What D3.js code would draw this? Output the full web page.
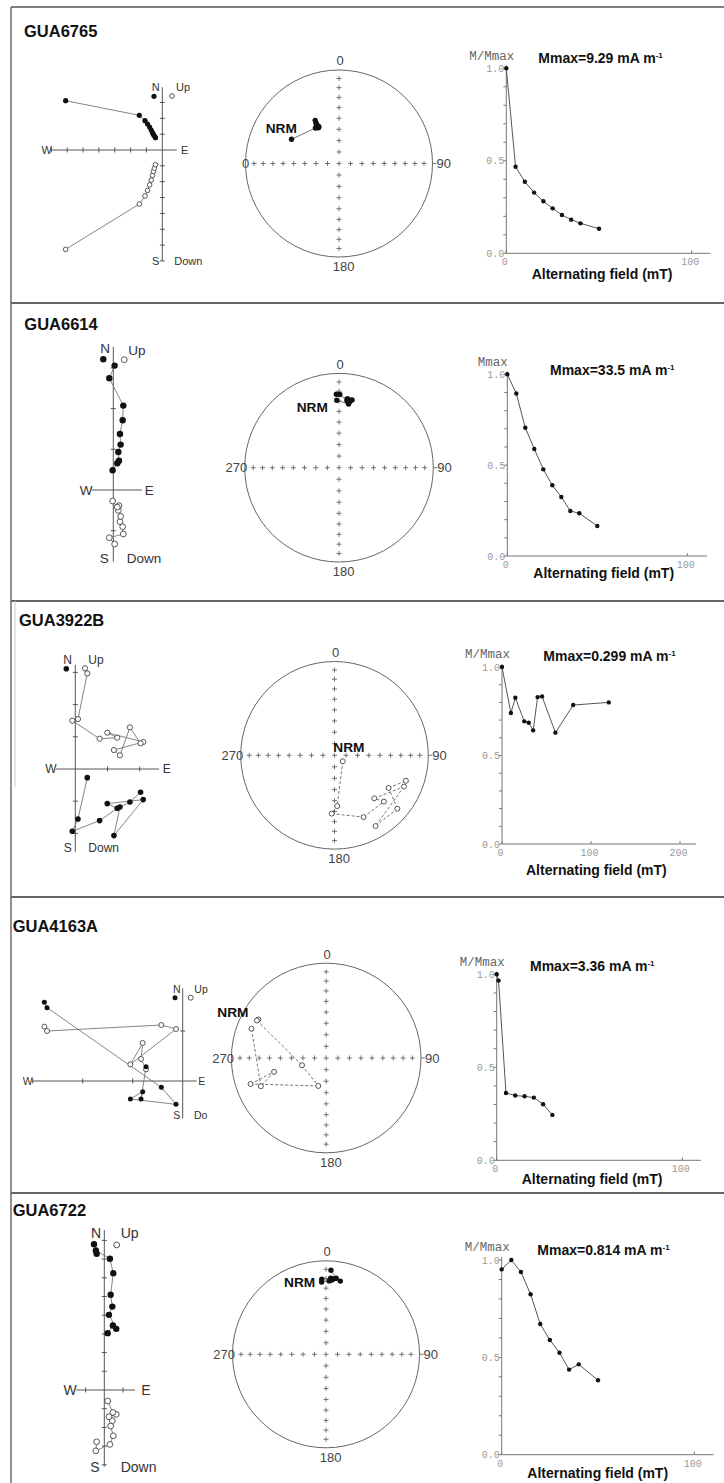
<!DOCTYPE html>
<html>
<head>
<meta charset="utf-8">
<script src="https://cdn.jsdelivr.net/npm/d3@7"></script>
<style>
  body { margin: 0; background: #fff; }
  svg { display: block; font-family: "Liberation Sans", Arial, sans-serif; }
</style>
</head>
<body>
<svg id="fig" width="724" height="1483"></svg>
<script>
// ---- data ----
const samples = ["GUA6765", "GUA6614", "GUA3922B", "GUA4163A", "GUA6722"];
const mmaxText = ["Mmax=9.29 mA m", "Mmax=33.5 mA m", "Mmax=0.299 mA m", "Mmax=3.36 mA m", "Mmax=0.814 mA m"];

// AF demagnetisation steps (mT)
const afSteps = [
  [0, 5, 10, 15, 20, 25, 30, 35, 40, 50],
  [0, 5, 10, 15, 20, 25, 30, 35, 40, 50],
  [0, 10, 15, 25, 30, 35, 40, 45, 60, 80, 120],
  [0, 1, 5, 10, 15, 20, 25, 30],
  [0, 5, 10, 15, 20, 25, 30, 35, 40, 50]
];
// M/Mmax at each step
const mNorm = [
  [1.0, 0.468, 0.387, 0.328, 0.281, 0.243, 0.207, 0.182, 0.162, 0.133],
  [1.0, 0.894, 0.706, 0.589, 0.477, 0.389, 0.325, 0.248, 0.235, 0.165],
  [1.0, 0.74, 0.826, 0.693, 0.685, 0.642, 0.83, 0.834, 0.629, 0.785, 0.80],
  [1.0, 0.966, 0.362, 0.348, 0.344, 0.337, 0.301, 0.244],
  [0.952, 1.0, 0.938, 0.824, 0.671, 0.589, 0.524, 0.437, 0.464, 0.382]
];
// vector components per step, in Zijderveld tick units (East, North, Up)
const compE = [
  [-6.10, -1.45, -1.09, -0.93, -0.80, -0.70, -0.62, -0.56, -0.50, -0.43],
  [0.033, -0.098, 0.246, 0.230, 0.164, 0.180, 0.123, 0.139, 0.098, -0.016],
  [0.372, 0.083, -0.093, 0.755, 1.303, 0.993, 2.110, 1.200, 1.386, 1.696, 2.027],
  [-2.767, -2.713, -0.427, -0.133, -1.047, -0.800, -0.833, -0.733],
  [-0.41, -0.45, 0.30, 0.48, 0.34, 0.43, 0.25, 0.64, 0.46, 0.18]
];
const compN = [
  [3.11, 2.19, 1.85, 1.64, 1.45, 1.26, 1.09, 0.98, 0.88, 0.78],
  [3.057, 2.746, 2.074, 1.713, 1.377, 1.115, 0.934, 0.721, 0.656, 0.484],
  [-0.269, -1.551, -1.934, -1.603, -1.220, -1.075, -0.951, -2.068, -1.179, -1.024, -0.724],
  [1.573, 1.467, -0.127, -0.467, -0.360, -0.213, -0.360, 0.287],
  [7.29, 7.46, 7.02, 6.25, 5.09, 4.46, 4.02, 3.27, 3.45, 3.04]
];
const compUp = [
  [-6.27, -3.41, -2.90, -2.55, -2.20, -1.90, -1.60, -1.35, -1.15, -0.93],
  [-1.328, -1.172, -1.082, -0.902, -0.779, -0.648, -0.500, -0.385, -0.420, -0.270],
  [2.968, 1.551, 1.500, 0.941, 0.972, 1.127, 0.838, 0.589, 0.424, 1.293, 0.796],
  [1.087, 1.000, 1.120, 1.040, 0.333, 0.760, 0.440, 0.233],
  [-2.77, -3.25, -2.91, -2.45, -1.93, -1.64, -1.43, -1.30, -1.20, -0.59]
];

// ---- layout of each row (pixels) ----
const rowLines = [303, 601, 897, 1193];
const layout = [
  { title: [24, 36.7],
    zij: { ox: 162.3, oy: 150, u: 15.85, xr: [-7, 0.91], yr: [-7, 3.96], fs: 11, rf: 2.6, ro: 2.3,
           N: [155.7, 87.3], Up: [176, 87.3], S: [155.7, 260.7], Dn: [174.3, 260.7], dnText: "Down",
           W: [46.7, 150], E: [184.7, 150], legF: [154, 96.3], legO: [172, 96] },
    st: { cx: 339, cy: 163.5, r: 93.5, left: "0", leftAnchor: "middle", leftDx: 0, nrm: [265.7, 133] },
    dm: { x: [506.3, 691.7], dom: 100, y: [253.3, 68.3], end: 110, ticks: [0, 100], yl: "M/Mmax",
          mm: [538.3, 63.3], af: [531.7, 279.3] } },
  { title: [24.3, 330],
    zij: { ox: 113.3, oy: 490, u: 40.7, xr: [-0.53, 0.70], yr: [-1.76, 3.52], fs: 13.5, rf: 3.2, ro: 2.9,
           N: [105, 348.3], Up: [128.3, 350], S: [104.3, 558.3], Dn: [126.7, 558.3], dnText: "Down",
           W: [86, 490], E: [149.3, 490], legF: [103.3, 359.3], legO: [124.3, 359.7] },
    st: { cx: 339, cy: 467.7, r: 94.3, left: "270", leftAnchor: "end", leftDx: 2.5, nrm: [296.7, 412] },
    dm: { x: [507.3, 687.3], dom: 100, y: [556, 374.3], end: 111, ticks: [0, 100], yl: "Mmax",
          mm: [550, 375], af: [533.3, 578.3] } },
  { title: [19, 626],
    zij: { ox: 75.3, oy: 769, u: 32.2, xr: [-0.6, 2.6], yr: [-2.57, 3.23], fs: 12, rf: 2.8, ro: 2.6,
           N: [67.7, 659.3], Up: [88.3, 659.3], S: [67.7, 847.3], Dn: [88.3, 847.3], dnText: "Down",
           W: [51, 769], E: [166.7, 769], legF: [66.3, 668.7], legO: [85, 668.3] },
    st: { cx: 334.5, cy: 755.3, r: 93.8, left: "270", leftAnchor: "end", leftDx: 2.5, nrm: [333.3, 752] },
    dm: { x: [502, 680], dom: 200, y: [844, 667], end: 218, ticks: [0, 100, 200], yl: "M/Mmax",
          mm: [543.3, 660.7], af: [526, 875] } },
  { title: [12.7, 931.7],
    zij: { ox: 182.7, oy: 1081, u: 50, xr: [-3.0, 0.28], yr: [-0.75, 1.85], fs: 10.5, rf: 2.5, ro: 2.5,
           N: [176.7, 989], Up: [194.3, 989.3], S: [176.7, 1115], Dn: [194, 1115], dnText: "Do",
           W: [27.7, 1081], E: [201.7, 1081], legF: [175, 997.7], legO: [190.7, 997.7] },
    st: { cx: 326.2, cy: 1058, r: 94.8, left: "270", leftAnchor: "end", leftDx: 2.5, nrm: [217.3, 1017] },
    dm: { x: [496.7, 682.3], dom: 100, y: [1160.3, 974.3], end: 110, ticks: [0, 100], yl: "M/Mmax",
          mm: [530, 971], af: [521.7, 1184] } },
  { title: [12.7, 1215.5],
    zij: { ox: 104.3, oy: 1390, u: 18.7, xr: [-1.5, 1.64], yr: [-4.1, 8.56], fs: 14, rf: 3.2, ro: 2.9,
           N: [96, 1232.7], Up: [120.7, 1233.3], S: [95, 1466.7], Dn: [120.7, 1466.7], dnText: "Down",
           W: [70, 1390], E: [146, 1390], legF: [94, 1244.3], legO: [116.7, 1245] },
    st: { cx: 326, cy: 1354.3, r: 93.5, left: "270", leftAnchor: "end", leftDx: 2.5, nrm: [284, 1287] },
    dm: { x: [501.7, 694.3], dom: 100, y: [1454.7, 1260], end: 110, ticks: [0, 100], yl: "M/Mmax",
          mm: [537.3, 1255], af: [527.3, 1478] } }
];

const svg = d3.select("#fig");
const axisCol = "#555", lineCol = "#777", labCol = "#333";

// frame and row separators
svg.append("line").attr("x1", 11).attr("x2", 724).attr("y1", 7).attr("y2", 7)
  .attr("stroke", "#555").attr("stroke-width", 1.7);
svg.append("line").attr("x1", 11).attr("x2", 11).attr("y1", 7).attr("y2", 1483)
  .attr("stroke", "#555").attr("stroke-width", 1.3);
svg.selectAll(".sep").data(rowLines).join("line")
  .attr("x1", 11).attr("x2", 724).attr("y1", d => d).attr("y2", d => d)
  .attr("stroke", "#666").attr("stroke-width", 1.8);
svg.append("line").attr("x1", 15).attr("x2", 15).attr("y1", 601).attr("y2", 787)
  .attr("stroke", "#ccc").attr("stroke-width", 1);

function label(g, pos, txt, size, anchor) {
  return g.append("text").attr("x", pos[0]).attr("y", pos[1]).attr("dy", "0.35em")
    .attr("text-anchor", anchor).attr("font-size", size).attr("fill", labCol).text(txt);
}

// ---- Zijderveld diagram ----
function drawZij(g, i, Z) {
  const x = d3.scaleLinear().domain([0, 1]).range([Z.ox, Z.ox + Z.u]);
  const y = d3.scaleLinear().domain([0, 1]).range([Z.oy, Z.oy - Z.u]);
  const ax = g.append("g").attr("stroke", axisCol).attr("stroke-width", 1);
  ax.append("line").attr("x1", x(Z.xr[0])).attr("x2", x(Z.xr[1])).attr("y1", y(0)).attr("y2", y(0));
  ax.append("line").attr("x1", x(0)).attr("x2", x(0)).attr("y1", y(Z.yr[0])).attr("y2", y(Z.yr[1]));
  const tx = d3.range(Math.ceil(Z.xr[0]), Math.floor(Z.xr[1]) + 1).filter(v => v !== 0);
  const ty = d3.range(Math.ceil(Z.yr[0]), Math.floor(Z.yr[1]) + 1).filter(v => v !== 0);
  tx.forEach(v => ax.append("line").attr("x1", x(v)).attr("x2", x(v)).attr("y1", y(0) - 2.5).attr("y2", y(0) + 2.5));
  ty.forEach(v => ax.append("line").attr("y1", y(v)).attr("y2", y(v)).attr("x1", x(0) - 2.5).attr("x2", x(0) + 2.5));

  const E = compE[i], N = compN[i], U = compUp[i];
  const idx = d3.range(E.length);
  g.append("path").datum(idx).attr("fill", "none").attr("stroke", lineCol).attr("stroke-width", 0.9)
    .attr("d", d3.line().x(k => x(E[k])).y(k => y(N[k])));
  g.append("path").datum(idx).attr("fill", "none").attr("stroke", lineCol).attr("stroke-width", 0.9)
    .attr("d", d3.line().x(k => x(E[k])).y(k => y(U[k])));
  g.selectAll(null).data(idx).join("circle")
    .attr("cx", k => x(E[k])).attr("cy", k => y(U[k])).attr("r", Z.ro)
    .attr("fill", "#fff").attr("stroke", "#444").attr("stroke-width", 0.9);
  g.selectAll(null).data(idx).join("circle")
    .attr("cx", k => x(E[k])).attr("cy", k => y(N[k])).attr("r", Z.rf).attr("fill", "#111");

  // legend symbols and axis names
  g.append("circle").attr("cx", Z.legF[0]).attr("cy", Z.legF[1]).attr("r", Z.rf).attr("fill", "#111");
  g.append("circle").attr("cx", Z.legO[0]).attr("cy", Z.legO[1]).attr("r", Z.ro)
    .attr("fill", "#fff").attr("stroke", "#444").attr("stroke-width", 0.9);
  label(g, Z.N, "N", Z.fs, "middle");
  label(g, Z.Up, "Up", Z.fs, "start");
  label(g, Z.S, "S", Z.fs, "middle");
  label(g, Z.Dn, Z.dnText, Z.fs, "start");
  label(g, Z.W, "W", Z.fs, "middle");
  label(g, Z.E, "E", Z.fs, "middle");
}

// equal-area (Schmidt) projection of a direction
function project(e, n, up) {
  const h = Math.hypot(e, n);
  const dec = Math.atan2(e, n);
  const inc = Math.atan2(-up, h);
  const r = Math.SQRT2 * Math.sin((Math.PI / 2 - Math.abs(inc)) / 2);
  return { x: r * Math.sin(dec), y: -r * Math.cos(dec), lower: inc >= 0 };
}

// ---- stereonet ----
function drawStereo(g, i, S) {
  const sx = d3.scaleLinear().domain([-1, 1]).range([S.cx - S.r, S.cx + S.r]);
  const sy = d3.scaleLinear().domain([-1, 1]).range([S.cy - S.r, S.cy + S.r]);
  g.append("circle").attr("cx", S.cx).attr("cy", S.cy).attr("r", S.r)
    .attr("fill", "none").attr("stroke", "#666").attr("stroke-width", 1);
  const cr = g.append("g").attr("stroke", "#555").attr("stroke-width", 0.8);
  const radii = [0].concat(d3.range(10, 90, 10).map(inc =>
    Math.SQRT2 * Math.sin((90 - inc) / 2 * Math.PI / 180)));
  const pts = [];
  radii.forEach(rr => {
    if (rr === 0) pts.push([0, 0]);
    else pts.push([rr, 0], [-rr, 0], [0, rr], [0, -rr]);
  });
  pts.forEach(p => {
    const px = sx(p[0]), py = sy(p[1]);
    cr.append("line").attr("x1", px - 2.5).attr("x2", px + 2.5).attr("y1", py).attr("y2", py);
    cr.append("line").attr("x1", px).attr("x2", px).attr("y1", py - 2.5).attr("y2", py + 2.5);
  });
  cr.append("line").attr("x1", S.cx + S.r).attr("x2", S.cx + S.r + 4).attr("y1", S.cy).attr("y2", S.cy);

  const fs = 13;
  g.append("text").attr("x", S.cx + 1).attr("y", S.cy - S.r - 4.7).attr("text-anchor", "middle")
    .attr("font-size", fs).attr("fill", "#444").text("0");
  g.append("text").attr("x", S.cx + 4.7).attr("y", S.cy + S.r + 14.3).attr("text-anchor", "middle")
    .attr("font-size", fs).attr("fill", "#444").text("180");
  g.append("text").attr("x", S.cx + S.r + 4).attr("y", S.cy).attr("dy", "0.35em")
    .attr("font-size", fs).attr("fill", "#444").text("90");
  g.append("text").attr("x", S.cx - S.r + S.leftDx).attr("y", S.cy).attr("dy", "0.35em")
    .attr("text-anchor", S.leftAnchor).attr("font-size", fs).attr("fill", "#444").text(S.left);

  const P = compE[i].map((e, k) => project(e, compN[i][k], compUp[i][k]));
  for (let k = 1; k < P.length; k++) {
    const a = P[k - 1], b = P[k];
    g.append("line").attr("x1", sx(a.x)).attr("y1", sy(a.y)).attr("x2", sx(b.x)).attr("y2", sy(b.y))
      .attr("stroke", "#666").attr("stroke-width", 0.9)
      .attr("stroke-dasharray", (a.lower && b.lower) ? null : "3,2");
  }
  g.selectAll(null).data(P).join("circle")
    .attr("cx", d => sx(d.x)).attr("cy", d => sy(d.y))
    .attr("r", d => d.lower ? 2.7 : 2.5)
    .attr("fill", d => d.lower ? "#111" : "#fff")
    .attr("stroke", d => d.lower ? "none" : "#444").attr("stroke-width", 0.9);
  g.append("text").attr("x", S.nrm[0]).attr("y", S.nrm[1]).attr("font-size", 13.7)
    .attr("font-weight", "bold").attr("fill", "#111").text("NRM");
}

// ---- demagnetisation curve ----
function drawDemag(g, i, D) {
  const x = d3.scaleLinear().domain([0, D.dom]).range(D.x);
  const y = d3.scaleLinear().domain([0, 1]).range(D.y);
  const mono = "'Liberation Mono', 'DejaVu Sans Mono', monospace";
  const ax = g.append("g").attr("stroke", "#777").attr("stroke-width", 1);
  ax.append("line").attr("x1", x(0)).attr("x2", x(0)).attr("y1", y(0)).attr("y2", y(1.015));
  ax.append("line").attr("x1", x(0)).attr("x2", x(D.end)).attr("y1", y(0)).attr("y2", y(0));
  d3.range(0, 11).forEach(t => ax.append("line")
    .attr("x1", x(0) - 3).attr("x2", x(0)).attr("y1", y(t / 10)).attr("y2", y(t / 10)));
  D.ticks.forEach(t => ax.append("line")
    .attr("x1", x(t)).attr("x2", x(t)).attr("y1", y(0)).attr("y2", y(0) - 3));

  g.selectAll(null).data([0, 0.5, 1]).join("text")
    .attr("x", x(0) - 2).attr("y", d => y(d)).attr("dy", "0.35em").attr("text-anchor", "end")
    .attr("font-family", mono).attr("font-size", 10).attr("fill", "#999")
    .text(d => d3.format(".1f")(d));
  g.selectAll(null).data(D.ticks).join("text")
    .attr("x", d => x(d) - 1.5).attr("y", y(0) + 12).attr("text-anchor", "middle")
    .attr("font-family", mono).attr("font-size", 10).attr("fill", "#999").text(d => d);
  g.append("text").attr("x", x(0) - 14.5).attr("y", y(1) - 13).attr("dy", "0.35em")
    .attr("text-anchor", "middle").attr("font-family", mono).attr("font-size", 12.5)
    .attr("fill", "#666").text(D.yl);

  const idx = d3.range(afSteps[i].length);
  g.append("path").datum(idx).attr("fill", "none").attr("stroke", "#555").attr("stroke-width", 1)
    .attr("d", d3.line().x(k => x(afSteps[i][k])).y(k => y(mNorm[i][k])));
  g.selectAll(null).data(idx).join("circle")
    .attr("cx", k => x(afSteps[i][k])).attr("cy", k => y(mNorm[i][k])).attr("r", 2.2).attr("fill", "#111");

  const t = g.append("text").attr("x", D.mm[0]).attr("y", D.mm[1]).attr("font-size", 14)
    .attr("font-weight", "bold").attr("fill", "#111").text(mmaxText[i]);
  t.append("tspan").attr("font-size", 8).attr("dy", -5).text("-1");
  g.append("text").attr("x", D.af[0]).attr("y", D.af[1]).attr("font-size", 14)
    .attr("font-weight", "bold").attr("fill", "#111").text("Alternating field (mT)");
}

samples.forEach((name, i) => {
  const L = layout[i];
  const g = svg.append("g");
  g.append("text").attr("x", L.title[0]).attr("y", L.title[1]).attr("font-size", 16.5)
    .attr("font-weight", "bold").attr("fill", "#111").text(name);
  drawZij(g, i, L.zij);
  drawStereo(g, i, L.st);
  drawDemag(g, i, L.dm);
});
</script>
</body>
</html>
